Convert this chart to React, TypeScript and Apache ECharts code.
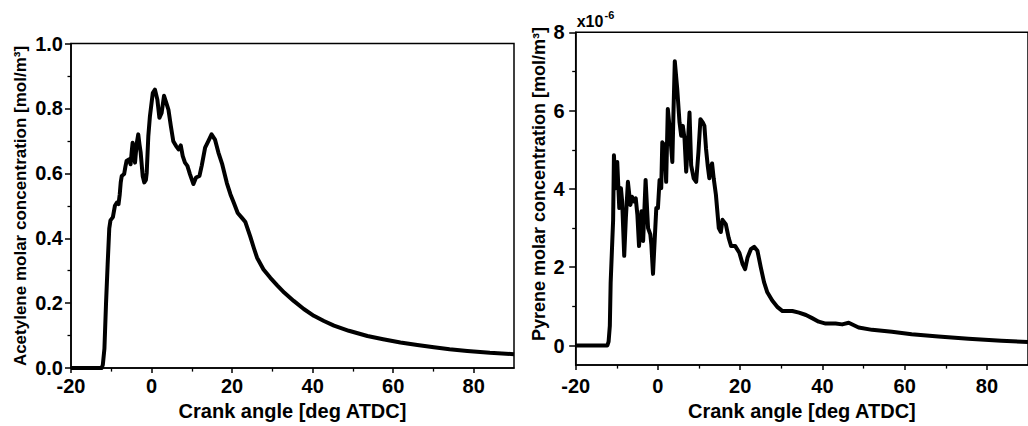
import React, { useEffect, useRef } from "react";
import * as echarts from "echarts";

// Acetylene (left panel): crank angle [deg ATDC] and concentration [mol/m3]
const acetyleneAngle = [
  -20, -12.4, -12.1, -11.7, -11.3, -10.9, -10.5, -10.2, -9.6, -9.1, -8.6, -8.2, -7.9, -7.65, -7.4, -6.8,
  -6.5, -6.2, -5.6, -5.2, -4.9, -4.7, -4.4, -4.1, -3.7, -3.3, -3.0, -2.7, -2.2, -1.8, -1.4, -1.2, -0.8,
  -0.4, 0.3, 0.85, 1.45, 1.95, 2.5, 3.1, 3.8, 4.2, 4.8, 5.4, 6.1, 6.7, 7.25, 7.75, 8.3, 8.9, 9.55, 10.4,
  11.05, 11.9, 12.45, 13.3, 14.1, 14.9, 15.75, 16.6, 17.5, 18.7, 19.6, 20.4, 21.4, 22.5, 23.3, 24.5,
  25.4, 26.2, 27.8, 29.5, 31.2, 33, 35.3, 37.8, 40.3, 42.8, 45.3, 49, 53.6, 57.5, 61.8, 66, 70.1, 74,
  78.4, 84, 90,
];
const acetyleneConc = [
  0, 0, 0.01, 0.06, 0.2, 0.32, 0.43, 0.455, 0.465, 0.5, 0.51, 0.505, 0.535, 0.572, 0.592, 0.598,
  0.62, 0.638, 0.643, 0.628, 0.67, 0.694, 0.66, 0.633, 0.69, 0.72, 0.69, 0.664, 0.592, 0.572, 0.58, 0.602, 0.715,
  0.776, 0.847, 0.858, 0.827, 0.771, 0.786, 0.839, 0.812, 0.796, 0.745, 0.699, 0.684, 0.674, 0.686, 0.653, 0.633, 0.623, 0.597, 0.567,
  0.587, 0.592, 0.623, 0.679, 0.699, 0.72, 0.704, 0.664, 0.63, 0.57, 0.535, 0.51, 0.478, 0.462, 0.45, 0.406,
  0.37, 0.34, 0.304, 0.278, 0.255, 0.232, 0.207, 0.182, 0.161, 0.145, 0.131, 0.115, 0.099, 0.089, 0.079, 0.071, 0.064, 0.058,
  0.053, 0.047, 0.043,
];

// Pyrene (right panel): crank angle [deg ATDC] and concentration [x1e-6 mol/m3]
const pyreneAngle = [
  -20, -12.3, -12.0, -11.7, -11.5, -11.1, -10.9, -10.7, -10.3, -9.9, -9.4, -9.0, -8.7, -8.2, -7.8, -7.3,
  -6.7, -6.3, -5.8, -5.4, -5.0, -4.6, -4.0, -3.6, -3.0, -2.4, -1.85, -1.6, -1.2, -0.8, -0.4, 0, 0.4, 0.8,
  1.06, 1.6, 2.0, 2.4, 2.8, 3.5, 3.8, 4.1, 4.7, 5.25, 5.66, 6.05, 6.47, 6.87, 7.26, 7.68, 8.08, 8.7, 9.3,
  9.85, 10.34, 10.9, 11.3, 11.7, 12.1, 12.5, 12.76, 13.17, 13.56, 14.1, 14.8, 15.3, 15.7, 16.5, 17.2,
  17.8, 18.8, 19.8, 20.6, 21.2, 21.8, 22.6, 23.4, 24.2, 25.0, 25.8, 26.6, 27.8, 29.1, 30.3, 32.7, 34.3,
  36.0, 37.5, 39.1, 40.8, 43.2, 44.8, 46.4, 48.8, 52.1, 56.9, 61.7, 68.2, 75.5, 83.5, 90,
];
const pyreneConc = [
  0, 0, 0.1, 0.5, 1.6, 2.67, 3.2, 4.86, 4.02, 4.69, 3.51, 4.02, 3.68, 2.29, 3.26, 4.18,
  3.59, 3.8, 3.68, 3.76, 3.34, 2.54, 3.43, 2.67, 4.23, 3.0, 2.84, 2.58, 1.83, 2.67, 3.51, 3.51, 4.23, 4.02,
  5.19, 5.11, 4.18, 6.04, 5.61, 4.69, 6.04, 7.26, 6.54, 5.7, 5.36, 5.61, 5.28, 4.44, 5.11, 5.95, 4.6, 4.27, 4.18,
  4.94, 5.78, 5.7, 5.61, 5.02, 4.6, 4.27, 4.52, 4.65, 4.27, 3.85, 3.0, 2.9, 3.21, 3.1, 2.75,
  2.54, 2.54, 2.37, 2.08, 1.95, 2.25, 2.46, 2.52, 2.42, 2.0, 1.62, 1.36, 1.15, 0.98, 0.88, 0.88, 0.84,
  0.78, 0.7, 0.61, 0.56, 0.56, 0.54, 0.58, 0.46, 0.4, 0.35, 0.29, 0.23, 0.17, 0.12, 0.09,
];

const xMajorTicks = [-20, 0, 20, 40, 60, 80];
const xMinorTicks = [-10, 10, 30, 50, 70];
const pyreneMajorTicks = [0, 2, 4, 6, 8];
const pyreneMinorTicks = [1, 3, 5, 7];

const xTitle = "Crank angle [deg ATDC]";
const leftYTitle = "Acetylene molar concentration [mol/m\u00B3]";
const rightYTitle = "Pyrene molar concentration [mol/m\u00B3]";

const FONT = "'Liberation Sans', Arial, Helvetica, sans-serif";

export default function App() {
  const ref = useRef<HTMLDivElement>(null);

  useEffect(() => {
    if (!ref.current) return;
    const chart = echarts.init(ref.current, undefined, { renderer: "svg" });
    const black = "#000";
    const axisLine = { show: true, onZero: false, lineStyle: { color: black, width: 1.5 } };
    const labelStyle = { color: black, fontSize: 20, fontWeight: "bold" as const, fontFamily: FONT };

    const majorX = (grid: number, margin: number, nameGap: number) => ({
      type: "value" as const,
      gridIndex: grid,
      min: -20,
      max: 90,
      position: "bottom" as const,
      axisLine,
      axisTick: { show: true, customValues: xMajorTicks, length: 5, lineStyle: { color: black, width: 1.5 } },
      axisLabel: { show: true, customValues: xMajorTicks, margin, ...labelStyle },
      splitLine: { show: false },
      name: xTitle,
      nameLocation: "middle" as const,
      nameGap,
      nameTextStyle: { color: black, fontSize: 20, fontWeight: "bold" as const, fontFamily: FONT },
    });
    const minorX = (grid: number) => ({
      type: "value" as const,
      gridIndex: grid,
      min: -20,
      max: 90,
      position: "bottom" as const,
      axisLine: { show: false, onZero: false },
      axisTick: { show: true, customValues: xMinorTicks, length: 3.5, lineStyle: { color: black, width: 1.3 } },
      axisLabel: { show: false },
      splitLine: { show: false },
    });

    const acetyleneData = acetyleneAngle.map((a, i) => [a, acetyleneConc[i]]);
    const pyreneData = pyreneAngle.map((a, i) => [a, pyreneConc[i]]);

    chart.setOption({
      animation: false,
      backgroundColor: "#fff",
      textStyle: { fontFamily: FONT, fontWeight: "bold" },
      grid: [
        { left: 71, top: 43.5, width: 443, height: 326.5, show: true, borderColor: black, borderWidth: 1.5, containLabel: false },
        { left: 575.7, top: 32.3, width: 454.3, height: 336, show: true, borderColor: black, borderWidth: 1.5, containLabel: false },
      ],
      xAxis: [majorX(0, 8, 24), minorX(0), majorX(1, 11, 32), minorX(1)],
      yAxis: [
        {
          type: "value",
          gridIndex: 0,
          min: 0,
          max: 1,
          interval: 0.2,
          position: "left",
          axisLine,
          axisTick: { show: true, length: 6, lineStyle: { color: black, width: 1.5 } },
          minorTick: { show: true, splitNumber: 2, length: 3.5, lineStyle: { color: black, width: 1.3 } },
          axisLabel: { margin: 8, formatter: (v: number) => v.toFixed(1), ...labelStyle },
          splitLine: { show: false },
          minorSplitLine: { show: false },
        },
        {
          type: "value",
          gridIndex: 1,
          min: -0.5,
          max: 8,
          position: "left",
          axisLine,
          axisTick: { show: true, customValues: pyreneMajorTicks, length: 6.5, lineStyle: { color: black, width: 1.5 } },
          axisLabel: { customValues: pyreneMajorTicks, margin: 11, ...labelStyle },
          splitLine: { show: false },
        },
        {
          type: "value",
          gridIndex: 1,
          min: -0.5,
          max: 8,
          position: "left",
          axisLine: { show: false, onZero: false },
          axisTick: { show: true, customValues: pyreneMinorTicks, length: 3.5, lineStyle: { color: black, width: 1.3 } },
          axisLabel: { show: false },
          splitLine: { show: false },
        },
      ],
      series: [
        {
          type: "line",
          name: "Acetylene",
          xAxisIndex: 0,
          yAxisIndex: 0,
          data: acetyleneData,
          showSymbol: false,
          symbol: "none",
          lineStyle: { color: black, width: 4, join: "round" },
        },
        {
          type: "line",
          name: "Pyrene",
          xAxisIndex: 2,
          yAxisIndex: 1,
          data: pyreneData,
          showSymbol: false,
          symbol: "none",
          lineStyle: { color: black, width: 4, join: "round" },
        },
      ],
      graphic: [
        {
          type: "text",
          x: 20,
          y: 206,
          rotation: Math.PI / 2,
          style: { text: leftYTitle, fill: black, font: `bold 17px ${FONT}`, align: "center", verticalAlign: "middle" },
        },
        {
          type: "text",
          x: 538.5,
          y: 184,
          rotation: Math.PI / 2,
          style: { text: rightYTitle, fill: black, font: `bold 18px ${FONT}`, align: "center", verticalAlign: "middle" },
        },
        {
          type: "text",
          x: 576.7,
          y: 21.5,
          style: { text: "x10", fill: black, font: `bold 16px ${FONT}`, align: "left", verticalAlign: "middle" },
        },
        {
          type: "text",
          x: 604.5,
          y: 14.5,
          style: { text: "-6", fill: black, font: `bold 11px ${FONT}`, align: "left", verticalAlign: "middle" },
        },
      ],
    });
    return () => chart.dispose();
  }, []);

  return (
    <div
      ref={ref}
      style={{ position: "fixed", left: 0, top: 0, width: 1028, height: 426, background: "#fff" }}
    />
  );
}
